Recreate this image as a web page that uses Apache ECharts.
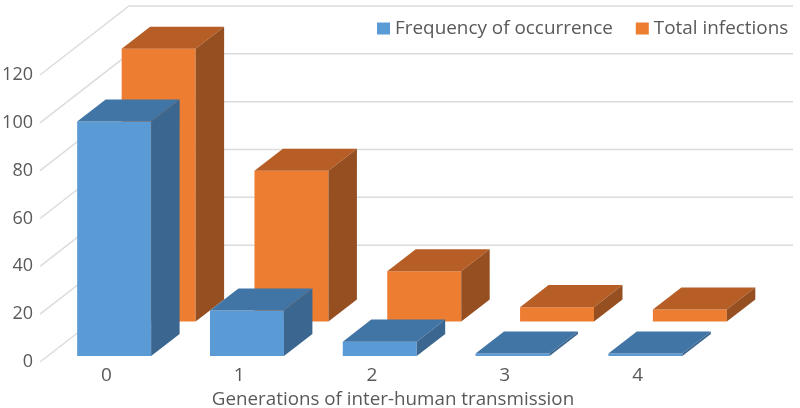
<!DOCTYPE html>
<html>
<head>
<meta charset="utf-8">
<script src="https://cdn.jsdelivr.net/npm/echarts@6/dist/echarts.min.js"></script>
<style>
  html, body { margin: 0; padding: 0; background: #fff; }
  #chart { width: 800px; height: 408px; }
</style>
</head>
<body>
<div id="chart"></div>
<script>
var generations = ["0", "1", "2", "3", "4"];
var frequency = [98, 19, 6, 1, 1];
var infections = [114, 63, 21, 6, 5];
var yTicks = [0, 20, 40, 60, 80, 100, 120];

// fake 3D: how far the back wall sits from the axis plane, in px
var depthX = 89;
var depthY = 69;
var barShare = 0.557; // bar width / category band
var barDepth = 0.32;  // bar depth / floor depth

function poly(points, color) {
  return { type: "polygon", shape: { points: points }, style: { fill: color } };
}

function box(depth, front, top, side) {
  return function (params, api) {
    var base = api.coord([api.value(0), 0]);
    var head = api.coord([api.value(0), api.value(1)]);
    var w = api.size([1, 0])[0] * barShare;
    var x0 = base[0] - w / 2 + depthX * depth;
    var x1 = x0 + w;
    var yb = base[1] - depthY * depth;
    var yt = head[1] - depthY * depth;
    var dx = depthX * barDepth;
    var dy = depthY * barDepth;
    return {
      type: "group",
      children: [
        poly([[x0, yb], [x1, yb], [x1, yt], [x0, yt]], front),
        poly([[x0, yt], [x1, yt], [x1 + dx, yt - dy], [x0 + dx, yt - dy]], top),
        poly([[x1, yb], [x1 + dx, yb - dy], [x1 + dx, yt - dy], [x1, yt]], side)
      ]
    };
  };
}

function wallLine(params, api) {
  var y = api.coord([0, api.value(0)])[1];
  var left = params.coordSys.x;
  var right = left + params.coordSys.width;
  var pts = [[left, y], [left + depthX, y - depthY]];
  // the zero line has no run along the back wall
  if (api.value(0) !== 0) pts.push([right + depthX, y - depthY]);
  return {
    type: "polyline",
    shape: { points: pts },
    style: { fill: null, stroke: "#dcdcdc", lineWidth: 1.5 }
  };
}

var chart = echarts.init(document.getElementById("chart"), null, { renderer: "canvas" });
chart.setOption({
  animation: false,
  backgroundColor: "#fff",
  textStyle: { fontFamily: "Open Sans" },
  grid: { left: 40, top: 75, width: 664, height: 287, outerBoundsMode: "none" },
  legend: {
    left: 377,
    top: 19,
    padding: 0,
    itemWidth: 13,
    itemHeight: 12,
    itemGap: 23,
    icon: "rect",
    data: ["Frequency of occurrence", "Total infections"],
    textStyle: { color: "#595959", fontSize: 18.9, fontFamily: "Open Sans" }
  },
  xAxis: {
    type: "category",
    data: generations,
    axisLine: { show: false },
    axisTick: { show: false },
    axisLabel: { color: "#595959", fontSize: 19, margin: 4 },
    name: "Generations of inter-human transmission",
    nameLocation: "middle",
    nameGap: 27,
    nameTextStyle: { color: "#595959", fontSize: 18.8, padding: [0, 0, 0, 42] }
  },
  yAxis: {
    type: "value",
    min: 0,
    max: 120,
    interval: 20,
    splitLine: { show: false },
    axisLine: { show: false },
    axisTick: { show: false },
    axisLabel: { color: "#595959", fontSize: 18, margin: 7, padding: [2, 0, 0, 0] }
  },
  series: [
    {
      type: "custom",
      name: "walls",
      silent: true,
      renderItem: wallLine,
      encode: { y: 0 },
      data: yTicks.map(function (v) { return [v]; }),
      clip: false,
      z: 1
    },
    {
      type: "custom",
      name: "Total infections",
      renderItem: box(0.587, "#ED7D31", "#B65E25", "#964F20"),
      itemStyle: { color: "#ED7D31" },
      encode: { x: 0, y: 1 },
      data: generations.map(function (g, i) { return [i, infections[i]]; }),
      clip: false,
      z: 2
    },
    {
      type: "custom",
      name: "Frequency of occurrence",
      renderItem: box(0.087, "#5B9BD5", "#4175A6", "#3A668F"),
      itemStyle: { color: "#5B9BD5" },
      encode: { x: 0, y: 1 },
      data: generations.map(function (g, i) { return [i, frequency[i]]; }),
      clip: false,
      z: 3
    }
  ]
});
</script>
</body>
</html>
